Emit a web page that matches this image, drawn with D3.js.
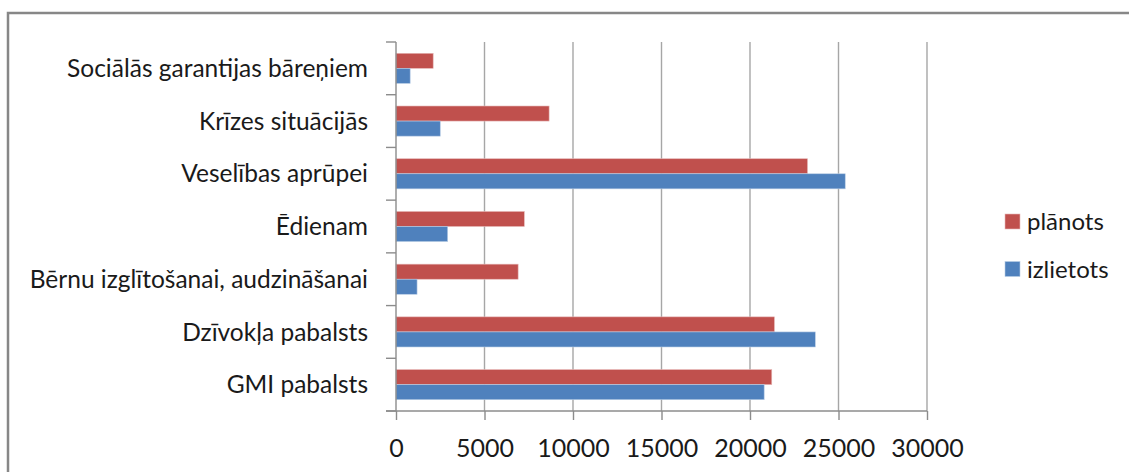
<!DOCTYPE html>
<html>
<head>
<meta charset="utf-8">
<script src="https://cdn.jsdelivr.net/npm/d3@7"></script>
<style>
  body { margin: 0; background: #fff; }
  svg text { font-family: Lato, "Open Sans", sans-serif; fill: #1a1a1a; }
</style>
</head>
<body>
<svg id="chart" width="1129" height="472"></svg>
<script>
var categories = ["Sociālās garantijas bāreņiem", "Krīzes situācijās", "Veselības aprūpei",
  "Ēdienam", "Bērnu izglītošanai, audzināšanai", "Dzīvokļa pabalsts", "GMI pabalsts"];
var seriesNames = ["plānots", "izlietots"];
var planotsValues = [2100, 8650, 23250, 7250, 6900, 21380, 21230];
var izlietotsValues = [800, 2500, 25380, 2920, 1190, 23690, 20800];
var xTicks = [0, 5000, 10000, 15000, 20000, 25000, 30000];
var colors = ["#C0504D", "#4F81BD"];

var svg = d3.select("#chart");
var margin = {left: 396, top: 42, right: 1129 - 927, bottom: 472 - 411};
var w = 1129 - margin.left - margin.right,
    h = 472 - margin.top - margin.bottom;

// outer frame
svg.append("rect")
  .attr("x", 8).attr("y", 13)
  .attr("width", 1200).attr("height", 600)
  .attr("fill", "none").attr("stroke", "#878787").attr("stroke-width", 2.5);

var g = svg.append("g").attr("transform", "translate(" + [margin.left, margin.top] + ")");

var x = d3.scaleLinear().domain([0, 30000]).range([0, w]);
var pad = 1.5 / 3.5;
var y = d3.scaleBand().domain(categories).range([0, h]).paddingInner(pad).paddingOuter(pad / 2);
var ySub = d3.scaleBand().domain(seriesNames).range([0, y.bandwidth()]);

// grid
g.selectAll(".grid").data(xTicks.slice(1)).enter().append("line")
  .attr("x1", function (d) { return x(d); }).attr("x2", function (d) { return x(d); })
  .attr("y1", 0).attr("y2", h)
  .attr("stroke", "#a6a6a6").attr("stroke-width", 1.4);

// bars
var rows = categories.map(function (c, i) {
  return [{cat: c, s: 0, v: planotsValues[i]}, {cat: c, s: 1, v: izlietotsValues[i]}];
});
g.selectAll(".cat").data(rows).enter().append("g")
  .attr("transform", function (d) { return "translate(0," + y(d[0].cat) + ")"; })
  .selectAll("rect").data(function (d) { return d; }).enter().append("rect")
  .attr("x", 0)
  .attr("y", function (d) { return ySub(seriesNames[d.s]); })
  .attr("width", function (d) { return x(d.v); })
  .attr("height", ySub.bandwidth())
  .attr("fill", function (d) { return colors[d.s]; })
  .attr("stroke", function (d) { return d.s ? "#b9cde5" : "#e6b9b8"; })
  .attr("stroke-width", 0.6);

// x axis
var xAxis = g.append("g").attr("transform", "translate(0," + h + ")")
  .call(d3.axisBottom(x).tickValues(xTicks).tickSize(9).tickPadding(19).tickFormat(d3.format("d")));
xAxis.select(".domain").attr("d", "M-10,0H" + w).attr("stroke", "#8c8c8c").attr("stroke-width", 1.4);
xAxis.selectAll(".tick line").attr("stroke", "#8c8c8c").attr("stroke-width", 1.4);
xAxis.selectAll("text").style("font-size", "25px").attr("dy", "0.71em");

// y axis
var bounds = d3.range(categories.length + 1).map(function (i) { return i * y.step(); });
var yAxis = g.append("g");
yAxis.append("line").attr("x1", 0).attr("x2", 0).attr("y1", 0).attr("y2", h)
  .attr("stroke", "#8c8c8c").attr("stroke-width", 1.4);
yAxis.selectAll(".tk").data(bounds).enter().append("line")
  .attr("x1", -10).attr("x2", 0)
  .attr("y1", function (d) { return d; }).attr("y2", function (d) { return d; })
  .attr("stroke", "#8c8c8c").attr("stroke-width", 1.4);
yAxis.selectAll(".lbl").data(categories).enter().append("text")
  .attr("x", -28)
  .attr("y", function (d) { return y(d) + y.bandwidth() / 2; })
  .attr("text-anchor", "end").attr("dy", "0.35em")
  .style("font-size", "24.5px")
  .text(function (d) { return d; });

// legend
var legend = svg.append("g").attr("transform", "translate(1005,214)");
seriesNames.forEach(function (s, i) {
  var lg = legend.append("g").attr("transform", "translate(0," + i * 47.5 + ")");
  lg.append("rect").attr("width", 15).attr("height", 15).attr("fill", colors[i])
    .attr("stroke", i ? "#b9cde5" : "#e6b9b8").attr("stroke-width", 0.6);
  lg.append("text").attr("x", 22).attr("y", 8).attr("dy", "0.35em")
    .style("font-size", "24px").text(s);
});
</script>
</body>
</html>
